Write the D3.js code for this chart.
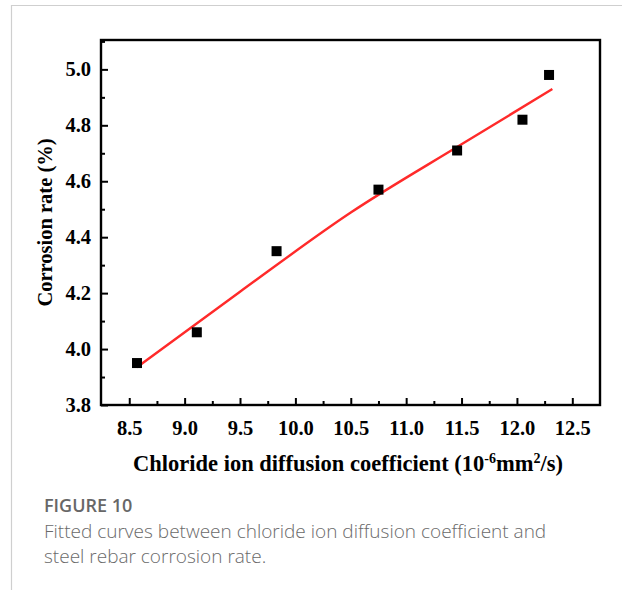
<!DOCTYPE html>
<html>
<head>
<meta charset="utf-8">
<script src="https://cdn.jsdelivr.net/npm/d3@7"></script>
<style>
  html, body { margin: 0; padding: 0; background: #fff; }
  svg { display: block; }
</style>
</head>
<body>
<svg id="chart" width="622" height="590"></svg>
<script>
// Measured samples: chloride ion diffusion coefficient vs corrosion rate
const diffusionCoef = [8.57, 9.11, 9.83, 10.75, 11.46, 12.05, 12.29];
const corrosionRate = [3.95, 4.06, 4.35, 4.57, 4.71, 4.82, 4.98];

// Fitted curve, sampled along its length
const fitX = [8.57, 9.5, 10.5, 11.5, 12.32];
const fitY = [3.935, 4.205, 4.488, 4.732, 4.93];

// Axis ticks
const xTicks = [8.5, 9.0, 9.5, 10.0, 10.5, 11.0, 11.5, 12.0, 12.5];
const xMinorTicks = [8.75, 9.25, 9.75, 10.25, 10.75, 11.25, 11.75, 12.25];
const yTicks = [3.8, 4.0, 4.2, 4.4, 4.6, 4.8, 5.0];
const yMinorTicks = [3.9, 4.1, 4.3, 4.5, 4.7, 4.9, 5.1];

const svg = d3.select("#chart");

// Card outline (top and left edges)
svg.append("path")
  .attr("d", "M11.5,590 V5.5 H622")
  .attr("fill", "none")
  .attr("stroke", "#cfcfcf")
  .attr("stroke-width", 1.2);

const plot = { left: 101, right: 600, top: 40, bottom: 405 };

const x = d3.scaleLinear().domain([8.245, 12.75]).range([plot.left, plot.right]);
const y = d3.scaleLinear().domain([3.8, 5.105]).range([plot.bottom, plot.top]);

const serif = "'Liberation Serif', 'Times New Roman', serif";

// Bottom axis: inward ticks, labels below
const xAxis = d3.axisBottom(x).tickValues(xTicks).tickFormat(d3.format(".1f"))
  .tickSizeInner(-7).tickSizeOuter(0).tickPadding(15);
const gx = svg.append("g").attr("transform", `translate(0,${plot.bottom})`).call(xAxis);
gx.select(".domain").remove();
gx.selectAll(".tick line").attr("stroke", "#000").attr("stroke-width", 2);
gx.selectAll(".tick text")
  .attr("font-family", serif).attr("font-weight", "bold")
  .attr("font-size", 20.5).attr("fill", "#000");

const xMinor = d3.axisBottom(x).tickValues(xMinorTicks).tickFormat("")
  .tickSizeInner(-4).tickSizeOuter(0);
const gxm = svg.append("g").attr("transform", `translate(0,${plot.bottom})`).call(xMinor);
gxm.select(".domain").remove();
gxm.selectAll(".tick line").attr("stroke", "#000").attr("stroke-width", 2);

// Left axis: inward ticks, labels to the left
const yAxis = d3.axisLeft(y).tickValues(yTicks).tickFormat(d3.format(".1f"))
  .tickSizeInner(-7).tickSizeOuter(0).tickPadding(10);
const gy = svg.append("g").attr("transform", `translate(${plot.left},0)`).call(yAxis);
gy.select(".domain").remove();
gy.selectAll(".tick line").attr("stroke", "#000").attr("stroke-width", 2);
gy.selectAll(".tick text")
  .attr("font-family", serif).attr("font-weight", "bold")
  .attr("font-size", 20.5).attr("fill", "#000");

const yMinor = d3.axisLeft(y).tickValues(yMinorTicks).tickFormat("")
  .tickSizeInner(-4).tickSizeOuter(0);
const gym = svg.append("g").attr("transform", `translate(${plot.left},0)`).call(yMinor);
gym.select(".domain").remove();
gym.selectAll(".tick line").attr("stroke", "#000").attr("stroke-width", 2);

// Plot frame
svg.append("rect")
  .attr("x", plot.left).attr("y", plot.top)
  .attr("width", plot.right - plot.left).attr("height", plot.bottom - plot.top)
  .attr("fill", "none").attr("stroke", "#000").attr("stroke-width", 2.4);

// Fitted curve
const fitPts = fitX.map((v, i) => [v, fitY[i]]);
svg.append("path")
  .datum(fitPts)
  .attr("d", d3.line().x(d => x(d[0])).y(d => y(d[1])).curve(d3.curveMonotoneX))
  .attr("fill", "none")
  .attr("stroke", "#ff2a2a")
  .attr("stroke-width", 2.4);

// Data points
const sq = 10;
svg.append("g").selectAll("rect")
  .data(diffusionCoef.map((v, i) => [v, corrosionRate[i]]))
  .join("rect")
  .attr("x", d => x(d[0]) - sq / 2)
  .attr("y", d => y(d[1]) - sq / 2)
  .attr("width", sq).attr("height", sq)
  .attr("fill", "#000");

// Axis titles
const xTitle = svg.append("text")
  .attr("x", 348).attr("y", 471)
  .attr("text-anchor", "middle")
  .attr("font-family", serif).attr("font-weight", "bold")
  .attr("font-size", 22.5).attr("fill", "#000");
xTitle.append("tspan").text("Chloride ion diffusion coefficient (10");
xTitle.append("tspan").attr("dy", -8).attr("font-size", 14).text("-6");
xTitle.append("tspan").attr("dy", 8).text("mm");
xTitle.append("tspan").attr("dy", -8).attr("font-size", 14).text("2");
xTitle.append("tspan").attr("dy", 8).text("/s)");

svg.append("text")
  .attr("transform", `translate(52,${(plot.top + plot.bottom) / 2}) rotate(-90)`)
  .attr("text-anchor", "middle")
  .attr("font-family", serif).attr("font-weight", "bold")
  .attr("font-size", 20.5).attr("fill", "#000")
  .text("Corrosion rate (%)");

// Caption
const sans = "'Open Sans', 'Noto Sans', sans-serif";
svg.append("text")
  .attr("x", 44).attr("y", 512)
  .attr("font-family", sans).attr("font-weight", 600)
  .attr("font-size", 18).attr("fill", "#676767")
  .text("FIGURE 10");
svg.append("text")
  .attr("x", 44).attr("y", 538)
  .attr("font-family", sans).attr("font-weight", 300)
  .attr("font-size", 19).attr("fill", "#6a6a6a")
  .text("Fitted curves between chloride ion diffusion coefficient and");
svg.append("text")
  .attr("x", 44).attr("y", 563)
  .attr("font-family", sans).attr("font-weight", 300)
  .attr("font-size", 19).attr("fill", "#6a6a6a")
  .text("steel rebar corrosion rate.");
</script>
</body>
</html>
